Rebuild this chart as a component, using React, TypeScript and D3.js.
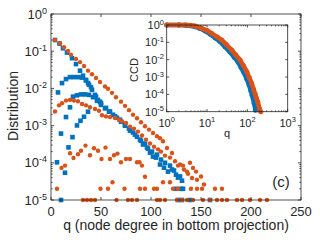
import React, { useRef, useEffect } from 'react';
import * as d3 from 'd3';

const ORANGE = '#D95319';
const BLUE = '#0072BD';
const AXIS = '#262626';
const FONT = '"Liberation Sans", Arial, Helvetica, sans-serif';

// main panel, [q, distribution]
const orangeTop = [[4,0.2],[9,0.164],[13,0.128],[17,0.102],[20,0.08],[25,0.062],[29,0.051],[33,0.04],[37,0.03],[41,0.024],[45,0.019],[49,0.0148],[54,0.0112],[57,0.0098],[61,0.0076],[65,0.0058],[70,0.0044],[74,0.0034],[78,0.0026],[82,0.00196],[86,0.00158],[90,0.00123],[94,0.00096],[98,0.00078],[102,0.00063],[106,0.00052],[109,0.00046],[112,0.00038],[116,0.00025],[121,0.000184],[124,0.00011],[129,0.00009],[133,0.000066],[137,0.000051],[141,0.000039],[146,0.000035],[150,0.000043],[153,0.000026]];
const orangeHump = [[4,0.0024],[8,0.0035],[11,0.004],[15,0.0047],[19,0.0049],[23,0.0047],[27,0.0045],[31,0.0038],[35,0.0035],[39,0.0031],[44,0.0028],[48,0.0025],[51,0.0019],[55,0.00177],[59,0.0017],[64,0.0016],[68,0.00144],[71,0.0013],[75,0.00117],[79,0.00094],[83,0.00083],[87,0.00069],[91,0.00054],[95,0.00042],[99,0.00033],[103,0.00027],[107,0.00023],[110,0.0002],[114,0.000156],[119,0.000138],[127,0.000084],[132,0.000084],[136,0.000058],[139,0.0001],[142,0.000073],[145,0.000058]];
const orangeLow = [[10.5,0.000073],[14,0.000084],[19,0.00018],[22.5,0.000135],[27,0.000169],[30,0.00021],[34.5,0.00029],[39,0.00016],[43,0.000245],[47,0.00021],[50.5,0.000127],[54.5,0.000256],[59,0.000127],[63,0.00016],[66.5,0.000177],[70,0.000103],[75,0.000127],[79,0.000127],[86,0.000103],[88.5,0.000103],[91,0.000084],[94,0.000042]];
const orangeSparse = [[61.5,3e-5],[112,3e-5],[119,3e-5],[6,2e-5],[49.5,2e-5],[57,2e-5],[73.5,2e-5],[89,2e-5],[94,2e-5],[103,2e-5],[106,2e-5],[122,2e-5],[127,2e-5],[140,2e-5],[146,2e-5],[151,2e-5],[164,2e-5],[171,2e-5],[32,1e-5],[36,1e-5],[40,1e-5],[44,1e-5],[65.5,1e-5],[77,1e-5],[81,1e-5],[86,1e-5],[106,1e-5],[109,1e-5],[114,1e-5],[126,1e-5],[131,1e-5],[136,1e-5],[142,1e-5],[152,1e-5],[159,1e-5],[166,1e-5],[171,1e-5],[176,1e-5],[186,1e-5],[191,1e-5],[199,1e-5],[209,1e-5],[216,1e-5]];

const blueTop = [[4,0.2],[8.5,0.16],[12,0.12],[16,0.092],[21,0.065],[25,0.045],[29,0.03],[32,0.022],[35,0.017],[37,0.0139],[40,0.0108],[44,0.0067],[47,0.0049],[50,0.004],[55,0.003],[59,0.0024],[64,0.00177],[69,0.00144],[74,0.0011],[79,0.00073],[84,0.00057],[89,0.00042],[92,0.00031],[96,0.000256],[99,0.000188],[102,0.000147],[106,0.000166],[109,0.00009],[113,0.000074],[117,0.000058],[121,0.000066],[125,0.000048],[129,0.000043],[132,0.00002]];
const blueHumpHigh = [[7,0.0078],[11,0.0139],[15,0.0178],[19,0.0201],[23,0.0201],[27,0.0201],[31,0.0195],[35,0.0163],[38,0.0125],[41,0.0092],[45,0.006],[49,0.0044]];
const blueHumpMid = [[15,0.0017],[19,0.0031],[22,0.006],[26,0.0065],[30,0.0069],[34,0.0069],[38,0.0067],[42,0.0058],[46,0.00465],[50,0.0036],[54,0.0029],[58,0.00236],[62,0.00196],[66,0.00163],[70,0.00127],[74,0.00099],[78,0.00083],[82,0.00065],[86,0.0005],[90,0.00039],[94,0.00033],[97,0.00024],[101,0.0002],[105,0.000138],[110,0.000122],[114,0.0001],[119,0.000084],[123,0.000062],[127,0.00004],[131,0.000033]];
const blueRise = [[6,0.000103],[10,0.00061],[14,0.000054],[17.5,0.00026],[21.5,0.00049],[26,0.00101],[29.5,0.00135],[33,0.00173],[37,0.00236]];
const blueSparse = [[10,1e-5],[125,2e-5],[130,2e-5],[127,1e-5],[131,1e-5],[139,1e-5],[159,1e-5]];

// inset, complementary cumulative distribution
const ccdOrangeQ = [1,2,3,4,5,7,10,13,18,23,30,41,52,66,80,97,112,128,142,155,168,181,199,215];
const ccdOrangeP = [1,1,0.99,0.95,0.88,0.68,0.48,0.33,0.2,0.136,0.075,0.036,0.018,0.0095,0.0045,0.002,0.0009,0.00043,0.0002,0.00011,0.00006,0.000037,0.000015,0.00001];
const ccdBlueQ = [1,2,3,3.8,5,6.7,9,11.9,16,21,28,37,47,59,70,83,96,110,122,131,147,159];
const ccdBlueP = [1,1,0.98,0.9,0.8,0.63,0.45,0.3,0.18,0.11,0.055,0.0275,0.014,0.0072,0.0035,0.0017,0.0008,0.00035,0.00016,0.00009,0.000031,0.000012];

const xTicks = [0, 50, 100, 150, 200, 250];

const supLabel = (sel, value, size, supSize, rise) => {
  const e = Math.round(Math.log10(value));
  sel.append('tspan').text('10');
  sel.append('tspan').attr('dy', -rise).attr('font-size', supSize).text(String(e));
};

const App = () => {
  const ref = useRef(null);

  useEffect(() => {
    const svg = d3.select(ref.current);
    svg.selectAll('*').remove();

    svg.append('rect').attr('width', 320).attr('height', 240).attr('fill', '#fff');

    // ---- main axes
    const x = d3.scaleLinear().domain([0, 250]).range([51, 301]);
    const y = d3.scaleLog().domain([1e-5, 1]).range([200, 14]);

    const g = svg.append('g');
    [blueTop, blueHumpHigh, blueHumpMid, blueRise, blueSparse].forEach(s => {
      g.append('g').selectAll('rect').data(s).enter().append('rect')
        .attr('x', d => x(d[0]) - 2.3).attr('y', d => y(d[1]) - 2.3)
        .attr('width', 4.6).attr('height', 4.6).attr('fill', BLUE);
    });
    [orangeTop, orangeHump, orangeLow, orangeSparse].forEach(s => {
      g.append('g').selectAll('circle').data(s).enter().append('circle')
        .attr('cx', d => x(d[0])).attr('cy', d => y(d[1]))
        .attr('r', 2.2).attr('fill', ORANGE);
    });

    const ax = svg.append('g').attr('stroke', AXIS).attr('stroke-width', 0.8);
    ax.append('rect').attr('x', 51).attr('y', 14).attr('width', 250).attr('height', 186).attr('fill', 'none');
    xTicks.forEach(t => {
      ax.append('line').attr('x1', x(t)).attr('x2', x(t)).attr('y1', 200).attr('y2', 197);
      ax.append('line').attr('x1', x(t)).attr('x2', x(t)).attr('y1', 14).attr('y2', 17);
    });
    y.ticks().forEach(t => {
      const major = Math.abs(Math.log10(t) - Math.round(Math.log10(t))) < 1e-6;
      const len = major ? 3 : 1.6;
      ax.append('line').attr('x1', 51).attr('x2', 51 + len).attr('y1', y(t)).attr('y2', y(t));
      ax.append('line').attr('x1', 301).attr('x2', 301 - len).attr('y1', y(t)).attr('y2', y(t));
    });

    const txt = svg.append('g').attr('font-family', FONT).attr('fill', AXIS);
    xTicks.forEach(t => {
      txt.append('text').attr('x', x(t)).attr('y', 215.5).attr('text-anchor', 'middle')
        .attr('font-size', 13).text(t);
    });
    y.ticks().filter(t => Math.abs(Math.log10(t) - Math.round(Math.log10(t))) < 1e-6).forEach(t => {
      const el = txt.append('text').attr('x', 47).attr('y', y(t) + 4.5).attr('text-anchor', 'end').attr('font-size', 13);
      supLabel(el, t, 13, 9, 5);
    });
    txt.append('text').attr('transform', 'translate(18,106) rotate(-90)').attr('text-anchor', 'middle')
      .attr('font-size', 14).text('Distribution');
    txt.append('text').attr('x', 176).attr('y', 230).attr('text-anchor', 'middle')
      .attr('font-size', 14).text('q (node degree in bottom projection)');
    txt.append('text').attr('x', 281).attr('y', 187).attr('text-anchor', 'middle')
      .attr('font-size', 15).text('(c)');

    // ---- inset
    const ix = d3.scaleLog().domain([1, 1000]).range([166.7, 287.7]);
    const iy = d3.scaleLog().domain([1e-5, 1]).range([111.7, 25]);
    svg.append('rect').attr('x', 166.7).attr('y', 25).attr('width', 121).attr('height', 86.7).attr('fill', '#fff');

    const line = d3.line().x(d => ix(d[0])).y(d => iy(d[1]));
    const blueCcd = ccdBlueQ.map((q, i) => [q, ccdBlueP[i]]);
    const orangeCcd = ccdOrangeQ.map((q, i) => [q, ccdOrangeP[i]]);
    [[blueCcd, BLUE], [orangeCcd, ORANGE]].forEach(([data, c]) => {
      svg.append('path').datum(data).attr('d', line).attr('fill', 'none')
        .attr('stroke', c).attr('stroke-width', 4.6).attr('stroke-linejoin', 'round');
      svg.append('g').selectAll('circle').data(data).enter().append('circle')
        .attr('cx', d => ix(d[0])).attr('cy', d => iy(d[1])).attr('r', 2.5).attr('fill', c);
    });

    const iax = svg.append('g').attr('stroke', AXIS).attr('stroke-width', 0.8);
    iax.append('rect').attr('x', 166.7).attr('y', 25).attr('width', 121).attr('height', 86.7).attr('fill', 'none');
    ix.ticks().forEach(t => {
      const major = Math.abs(Math.log10(t) - Math.round(Math.log10(t))) < 1e-6;
      const len = major ? 2.5 : 1.3;
      iax.append('line').attr('x1', ix(t)).attr('x2', ix(t)).attr('y1', 111.7).attr('y2', 111.7 - len);
      iax.append('line').attr('x1', ix(t)).attr('x2', ix(t)).attr('y1', 25).attr('y2', 25 + len);
    });
    const iyMajor = iy.ticks().filter(t => Math.abs(Math.log10(t) - Math.round(Math.log10(t))) < 1e-6);
    iyMajor.forEach(t => {
      iax.append('line').attr('x1', 166.7).attr('x2', 169.2).attr('y1', iy(t)).attr('y2', iy(t));
      iax.append('line').attr('x1', 287.7).attr('x2', 285.2).attr('y1', iy(t)).attr('y2', iy(t));
    });

    const itxt = svg.append('g').attr('font-family', FONT).attr('fill', AXIS);
    ix.ticks().filter(t => Math.abs(Math.log10(t) - Math.round(Math.log10(t))) < 1e-6).forEach(t => {
      const el = itxt.append('text').attr('x', ix(t)).attr('y', 126.5).attr('text-anchor', 'middle').attr('font-size', 11);
      supLabel(el, t, 11, 7.5, 4.5);
    });
    iyMajor.forEach(t => {
      const el = itxt.append('text').attr('x', 164).attr('y', iy(t) + 4).attr('text-anchor', 'end').attr('font-size', 11);
      supLabel(el, t, 11, 7.5, 4.5);
    });
    itxt.append('text').attr('transform', 'translate(138,70) rotate(-90)').attr('text-anchor', 'middle')
      .attr('font-size', 11).text('CCD');
    itxt.append('text').attr('x', 227).attr('y', 136.5).attr('text-anchor', 'middle')
      .attr('font-size', 11).text('q');
  }, []);

  return (
    <svg ref={ref} width={320} height={240} style={{ position: 'absolute', left: 0, top: 0 }} />
  );
};

export default App;
